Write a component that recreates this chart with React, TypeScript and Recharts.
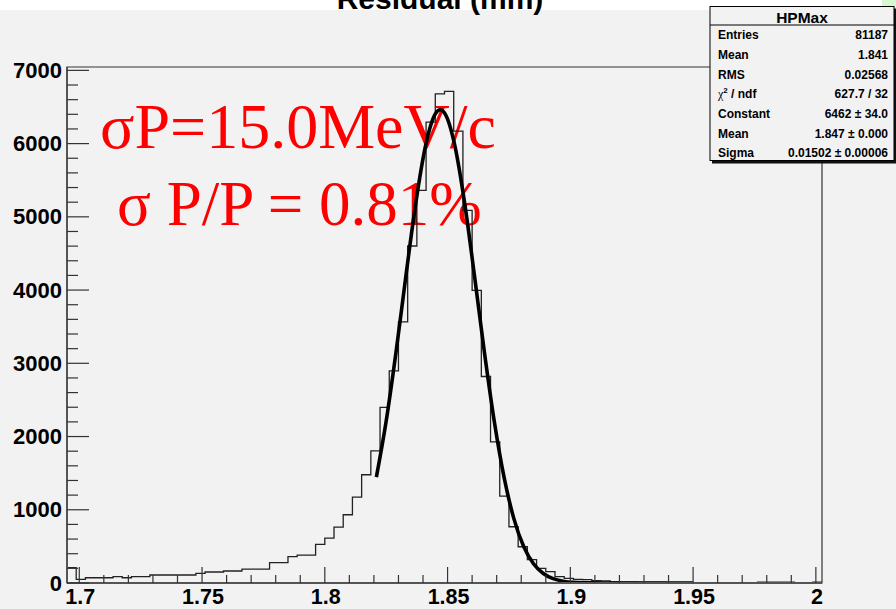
import React from 'react';
import { ComposedChart, Line, XAxis, YAxis, ReferenceArea } from 'recharts';

// ---- data ----
const BIN_START = 1.695;
const BIN_WIDTH = 0.00375;
const counts = [
  210, 50, 72, 72, 72, 86, 72, 86, 86, 109,
  109, 109, 109, 109, 132, 150, 150, 164, 164, 190,
  190, 190, 277, 277, 359, 382, 382, 528, 614, 764,
  932, 1173, 1478, 1805, 2397, 2896, 3565, 4602, 5362, 6293,
  6680, 6712, 6170, 5089, 3997, 2820, 1928, 1187, 768, 495,
  318, 200, 154, 86, 64, 50, 45, 31, 28, 15,
  12, 10, 9, 8, 8, 6, 6, 5, 5, 4,
  0, 0, 0, 0, 0, 12, 12, 12, 12, 0,
  0, 10,
];
const fitX = [1.821, 1.825, 1.829, 1.833, 1.837, 1.841, 1.845, 1.847, 1.849, 1.853, 1.857, 1.861, 1.865, 1.869, 1.873, 1.877, 1.881, 1.885, 1.889, 1.893, 1.897, 1.901, 1.91, 1.92, 1.935, 1.95];
const fitY = [1445, 2211, 3151, 4185, 5177, 5966, 6405, 6462, 6405, 5966, 5177, 4185, 3151, 2211, 1445, 879, 498, 263, 130, 59, 25, 10, 2, 0, 0, 0];

const xMajorTicks = [1.7, 1.75, 1.8, 1.85, 1.9, 1.95, 2];
const xAllTicks = [1.7, 1.71, 1.72, 1.73, 1.74, 1.75, 1.76, 1.77, 1.78, 1.79, 1.8, 1.81, 1.82, 1.83, 1.84, 1.85, 1.86, 1.87, 1.88, 1.89, 1.9, 1.91, 1.92, 1.93, 1.94, 1.95, 1.96, 1.97, 1.98, 1.99, 2];
const yMajorTicks = [0, 1000, 2000, 3000, 4000, 5000, 6000, 7000];
const yAllTicks = [0, 200, 400, 600, 800, 1000, 1200, 1400, 1600, 1800, 2000, 2200, 2400, 2600, 2800, 3000, 3200, 3400, 3600, 3800, 4000, 4200, 4400, 4600, 4800, 5000, 5200, 5400, 5600, 5800, 6000, 6200, 6400, 6600, 6800, 7000];
const X_DOMAIN: [number, number] = [1.695, 2.0025];
const Y_DOMAIN: [number, number] = [0, 7046];

const statTitle = 'HPMax';
const statLabels = ['Entries', 'Mean', 'RMS', 'CHI', 'Constant', 'Mean', 'Sigma'];
const statValues = ['81187', '1.841', '0.02568', '627.7 / 32', '6462 \u00b1 34.0', '1.847 \u00b1 0.000', '0.01502 \u00b1 0.00006'];

const titleText = 'Residual (mm)';
const redLine1 = '\u03c3P=15.0MeV/c';
const redLine2 = '\u03c3 P/P = 0.81%';

// ---- derived tables ----
const histData = counts.map((c, i) => ({ x: BIN_START + i * BIN_WIDTH, h: c }));
histData.push({ x: BIN_START + counts.length * BIN_WIDTH, h: counts[counts.length - 1] });
const fitData = fitX.map((x, i) => ({ x, f: fitY[i] }));

// ---- layout ----
const W = 896;
const H = 609;
const PL = 67;
const PR = 822;
const PT = 67;
const PB = 583;
const SANS = '"Liberation Sans", Arial, Helvetica, sans-serif';
const SERIF = '"Liberation Serif", "Times New Roman", serif';

const isIn = (arr: number[], v: number) => arr.some((t) => Math.abs(t - v) < 1e-6);
const fmtX = (v: number) => String(Math.round(v * 100) / 100);

const XTick = (props: any) => {
  const { x, payload } = props;
  const v = payload.value;
  const major = isIn(xMajorTicks, v);
  return (
    <g>
      <line x1={x} x2={x} y1={PB} y2={PB - (major ? 16 : 8)} stroke="#333" strokeWidth={1.2} />
      {major && (
        <text x={x + 1} y={PB + 21} textAnchor="middle" fontFamily={SANS} fontWeight="bold" fontSize={21.5} fill="#000">
          {fmtX(v)}
        </text>
      )}
    </g>
  );
};

const YTick = (props: any) => {
  const { y, payload } = props;
  const v = payload.value;
  const major = isIn(yMajorTicks, v);
  return (
    <g>
      <line x1={PL} x2={PL + (major ? 22 : 11)} y1={y} y2={y} stroke="#333" strokeWidth={1.2} />
      {major && (
        <text x={PL - 5} y={y + 7.5} textAnchor="end" fontFamily={SANS} fontWeight="bold" fontSize={22} fill="#000">
          {String(v)}
        </text>
      )}
    </g>
  );
};

export default function App() {
  const rowCenters = [35, 54.7, 74.3, 94, 113.7, 133.3, 153];
  return (
    <div style={{ position: 'absolute', left: 0, top: 0, width: W, height: H, background: '#f2f2f2', overflow: 'hidden' }}>
      {/* under layer: white band, title, red annotations */}
      <svg width={W} height={H} style={{ position: 'absolute', left: 0, top: 0 }}>
        <rect x={0} y={0} width={W} height={10} fill="#ffffff" />
        <text x={440} y={9} textAnchor="middle" fontFamily={SANS} fontWeight="bold" fontSize={30} fill="#000">
          {titleText}
        </text>
        <rect x={882} y={0} width={14} height={8} fill="#d6f7cf" />
        <text x={100} y={148} fontFamily={SERIF} fontSize={64} fill="#ff0000">
          {redLine1}
        </text>
        <text x={117} y={225} fontFamily={SERIF} fontSize={63} fill="#ff0000">
          {redLine2}
        </text>
      </svg>

      <div style={{ position: 'absolute', left: 0, top: 0 }}>
        <ComposedChart width={W} height={H} margin={{ top: PT, right: W - PR, bottom: 0, left: 0 }}>
          <XAxis
            type="number"
            dataKey="x"
            domain={X_DOMAIN}
            allowDataOverflow
            ticks={xAllTicks}
            interval={0}
            height={H - PB}
            tickLine={false}
            axisLine={{ stroke: '#555', strokeWidth: 2 }}
            tick={(p: any) => <XTick {...p} />}
          />
          <YAxis
            type="number"
            domain={Y_DOMAIN}
            allowDataOverflow
            ticks={yAllTicks}
            interval={0}
            width={PL}
            tickLine={false}
            axisLine={{ stroke: '#555', strokeWidth: 2 }}
            tick={(p: any) => <YTick {...p} />}
          />
          <ReferenceArea
            x1={X_DOMAIN[0]}
            x2={X_DOMAIN[1]}
            y1={Y_DOMAIN[0]}
            y2={Y_DOMAIN[1]}
            fill="none"
            fillOpacity={0}
            stroke="#333"
            strokeWidth={1.2}
            ifOverflow="visible"
          />
          <Line
            data={histData}
            dataKey="h"
            type="stepAfter"
            stroke="#222"
            strokeWidth={1.3}
            dot={false}
            activeDot={false}
            isAnimationActive={false}
          />
          <Line
            data={fitData}
            dataKey="f"
            type="monotone"
            stroke="#000"
            strokeWidth={3.6}
            dot={false}
            activeDot={false}
            isAnimationActive={false}
          />
        </ComposedChart>
      </div>

      {/* stats box on top */}
      <svg width={W} height={H} style={{ position: 'absolute', left: 0, top: 0 }}>
        <rect x={712} y={8.5} width={184} height={155} fill="#111" />
        <rect x={710} y={6.5} width={184} height={154} fill="#f2f2f2" stroke="#000" strokeWidth={1} />
        <line x1={710} x2={894} y1={25} y2={25} stroke="#000" strokeWidth={1} />
        <text x={802} y={22.5} textAnchor="middle" fontFamily={SANS} fontWeight="bold" fontSize={15.5} fill="#000">
          {statTitle}
        </text>
        {statLabels.map((lab, i) => (
          <g key={i}>
            <text x={718} y={rowCenters[i] + 4.3} fontFamily={SANS} fontWeight="bold" fontSize={12} fill="#000">
              {lab === 'CHI' ? (
                <>
                  <tspan fontWeight="normal" fontFamily={SERIF}>{'\u03c7'}</tspan>
                  <tspan fontSize={8} dy={-5}>2</tspan>
                  <tspan dy={5}>{' / ndf'}</tspan>
                </>
              ) : (
                lab
              )}
            </text>
            <text x={888} y={rowCenters[i] + 4.3} textAnchor="end" fontFamily={SANS} fontWeight="bold" fontSize={12} fill="#000">
              {statValues[i]}
            </text>
          </g>
        ))}
      </svg>
    </div>
  );
}
